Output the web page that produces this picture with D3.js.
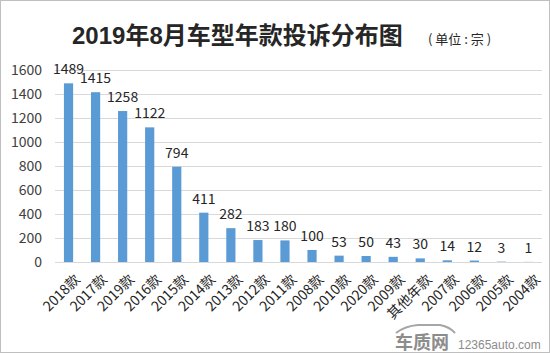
<!DOCTYPE html>
<html>
<head>
<meta charset="utf-8">
<script src="https://cdn.jsdelivr.net/npm/d3@7"></script>
<style>
  body { margin: 0; background: #fff; }
  svg { display: block; }
</style>
</head>
<body>
<svg id="chart"></svg>
<script>
/******** Data ********/
var categories = ["2018款", "2017款", "2019款", "2016款", "2015款", "2014款", "2013款", "2012款", "2011款",
  "2008款", "2010款", "2020款", "2009款", "其他年款", "2007款", "2006款", "2005款", "2004款"];
var complaints = [1489, 1415, 1258, 1122, 794, 411, 282, 183, 180, 100, 53, 50, 43, 30, 14, 12, 3, 1];
var yTicks = [0, 200, 400, 600, 800, 1000, 1200, 1400, 1600];

var chartWidth = 550;
var chartHeight = 353;
var font = "'Noto Sans CJK SC', 'Noto Sans', sans-serif";

var svg = d3.select("#chart")
  .attr("width", chartWidth)
  .attr("height", chartHeight);

// outer frame
svg.append("rect")
  .attr("x", 0.5).attr("y", 0.5)
  .attr("width", chartWidth - 1).attr("height", chartHeight - 1)
  .attr("fill", "#fff")
  .attr("stroke", "#bfbfbf");

/******** Scales ********/
var x = d3.scaleBand()
  .domain(categories)
  .range([55, 542])
  .paddingInner(0.66)
  .paddingOuter(0.33);

var y = d3.scaleLinear()
  .domain([0, 1600])
  .range([262, 70]);

/******** Grid + y axis ********/
var yAxis = d3.axisLeft(y)
  .tickValues(yTicks)
  .tickFormat(d3.format("d"))
  .tickSize(-(542 - 55))
  .tickPadding(13);

var yAxisGroup = svg.append("g")
  .attr("transform", "translate(55,0)")
  .call(yAxis);

yAxisGroup.select(".domain").remove();
yAxisGroup.selectAll("line").attr("stroke", "#d9d9d9");
yAxisGroup.selectAll("text")
  .attr("fill", "#404040")
  .style("font-family", font)
  .style("font-size", "14px");

/******** Bars ********/
svg.append("g").selectAll("rect")
  .data(complaints)
  .enter()
  .append("rect")
  .attr("fill", "#5b9bd5")
  .attr("x", (d, i) => x(categories[i]))
  .attr("y", d => y(d))
  .attr("width", x.bandwidth())
  .attr("height", d => y(0) - y(d));

// value labels
svg.append("g").selectAll("text")
  .data(complaints)
  .enter()
  .append("text")
  .attr("x", (d, i) => x(categories[i]) + x.bandwidth() / 2)
  .attr("y", d => y(d) - 9)
  .attr("text-anchor", "middle")
  .attr("fill", "#262626")
  .style("font-family", font)
  .style("font-size", "14px")
  .text(d => d);

/******** x axis labels ********/
svg.append("g").selectAll("text")
  .data(categories)
  .enter()
  .append("text")
  .attr("transform", d => "translate(" + (x(d) + x.bandwidth() / 2 + 5) + ",273) rotate(-45)")
  .attr("text-anchor", "end")
  .attr("dy", "0.75em")
  .attr("fill", "#262626")
  .style("font-family", font)
  .style("font-size", "14px")
  .text(d => d);

/******** Title ********/
svg.append("text")
  .attr("x", 72)
  .attr("y", 44)
  .attr("fill", "#262626")
  .style("font-family", "'Liberation Sans', 'Noto Sans CJK SC', sans-serif")
  .style("font-weight", "bold")
  .style("font-size", "24px")
  .text("2019年8月车型年款投诉分布图");

svg.append("text")
  .attr("x", 428)
  .attr("y", 44)
  .attr("fill", "#262626")
  .style("font-family", font)
  .style("font-size", "13px")
  .text("( 单位 : 宗 )");

/******** Watermark ********/
var wm = svg.append("g").attr("fill", "#8c8c8c");
wm.append("path")
  .attr("d", "M396,333 Q405,326 418,325 L440,325 Q450,327 455,333")
  .attr("fill", "none")
  .attr("stroke", "#a6a6a6")
  .attr("stroke-width", 2);
wm.append("text")
  .attr("x", 395).attr("y", 349)
  .style("font-family", font)
  .style("font-weight", "bold")
  .style("font-size", "18px")
  .text("车质网");
wm.append("text")
  .attr("x", 458).attr("y", 349)
  .style("font-family", "'Liberation Sans', sans-serif")
  .style("font-size", "12px")
  .text("12365auto.com");
</script>
</body>
</html>
